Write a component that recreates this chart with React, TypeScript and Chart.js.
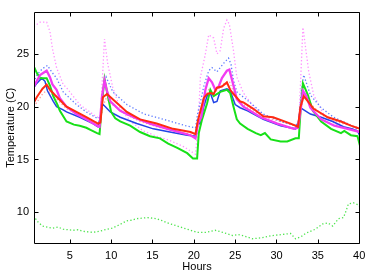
import React, { useEffect, useRef } from "react";
import { Chart, registerables } from "chart.js";

Chart.register(...registerables);

// Hours vs temperature (C) readings, [hour, value]
const redSolid: [number, number][] = [
  [0.65, 20.4], [1.0, 20.9], [1.7, 21.7], [2.2, 22.1], [2.6, 21.6], [3.2, 21.1], [4.6, 20.0], [5.8, 19.5],
  [7.0, 19.0], [8.4, 18.4], [8.7, 18.5], [9.0, 20.9], [9.5, 21.2], [10.5, 20.5], [11.9, 19.5], [13.5, 18.8],
  [15.5, 18.4], [17.5, 17.9], [19.6, 17.6], [20.2, 17.4], [20.5, 18.7], [21.2, 20.8], [21.6, 21.2], [22.0, 21.3],
  [22.4, 21.2], [22.8, 21.8], [23.4, 21.9], [24.0, 22.3], [24.4, 21.6], [24.8, 21.2], [25.6, 20.5], [26.0, 20.4],
  [27.2, 19.8], [28.4, 19.1], [29.6, 19.0], [31.7, 18.4], [32.6, 18.1], [32.9, 20.0], [33.3, 21.0], [34.5, 19.8],
  [36.2, 19.0], [37.8, 18.6], [39.0, 18.2], [40.1, 17.9],
];

const magentaSolid: [number, number][] = [
  [0.65, 21.9], [1.4, 23.0], [2.2, 23.4], [2.6, 22.8], [2.9, 22.1], [3.4, 21.6], [3.8, 20.8], [4.6, 20.0],
  [5.8, 19.3], [7.0, 18.8], [8.3, 18.2], [8.6, 18.1], [8.9, 21.0], [9.2, 22.5], [9.5, 21.5], [9.9, 20.5],
  [11.1, 19.6], [12.7, 19.0], [14.7, 18.4], [16.8, 17.9], [19.6, 17.3], [20.2, 17.0], [20.5, 18.4], [20.9, 19.0],
  [21.4, 21.6], [21.8, 22.7], [22.2, 22.3], [22.6, 21.6], [23.0, 21.9], [23.4, 22.7], [24.0, 23.4], [24.3, 23.5],
  [24.7, 22.3], [25.2, 20.7], [26.0, 20.0], [28.1, 19.0], [30.1, 18.4], [32.1, 17.9], [32.6, 18.0], [32.9, 19.5],
  [33.2, 21.5], [33.6, 21.0], [34.1, 19.9], [35.4, 18.8], [37.0, 18.2], [38.6, 17.9], [40.1, 17.6],
];

const greenSolid: [number, number][] = [
  [0.65, 23.8], [1.0, 23.2], [1.4, 22.7], [2.2, 22.7], [2.6, 22.0], [3.0, 21.0], [3.5, 20.2], [3.8, 19.6],
  [4.6, 18.6], [5.5, 18.3], [6.2, 18.2], [7.0, 18.0], [7.5, 17.8], [8.3, 17.5], [8.6, 17.4], [8.9, 20.5],
  [9.2, 22.6], [9.6, 21.0], [10.0, 19.5], [10.5, 18.9], [11.1, 18.6], [12.3, 18.2], [13.5, 17.6], [14.7, 17.2],
  [15.9, 17.0], [16.9, 16.5], [18.0, 16.1], [19.2, 15.6], [19.9, 15.1], [20.4, 15.1], [20.6, 17.5], [21.0, 18.8],
  [21.6, 20.3], [22.0, 21.6], [22.4, 21.0], [23.2, 21.4], [24.0, 21.6], [24.4, 21.3], [24.8, 20.0], [25.2, 18.8],
  [25.6, 18.4], [26.5, 17.9], [27.5, 17.5], [28.1, 17.3], [28.6, 17.5], [29.3, 16.9], [30.5, 16.7], [31.3, 16.7],
  [32.3, 17.0], [32.7, 17.0], [32.9, 19.5], [33.2, 22.2], [33.8, 21.1], [34.4, 19.6], [35.4, 18.6], [36.6, 17.9],
  [37.8, 17.5], [38.2, 17.7], [39.0, 17.3], [39.8, 17.2], [40.1, 16.3],
];

const blueSolid: [number, number][] = [
  [0.65, 21.8], [1.0, 22.2], [1.6, 22.7], [2.0, 22.4], [2.3, 21.5], [3.0, 20.5], [3.4, 20.0], [4.2, 19.7],
  [4.6, 19.5], [6.2, 19.0], [7.8, 18.4], [8.4, 18.1], [8.7, 19.0], [8.9, 20.3], [9.3, 20.0], [9.9, 19.5],
  [11.1, 19.0], [13.1, 18.4], [15.1, 17.9], [17.1, 17.6], [19.2, 17.3], [20.2, 17.2], [20.5, 18.7], [20.8, 18.3],
  [21.2, 20.0], [21.6, 21.0], [22.0, 21.3], [22.4, 20.4], [22.8, 20.5], [23.2, 21.5], [24.0, 21.7], [24.4, 21.5],
  [25.0, 20.2], [25.6, 19.9], [26.5, 19.6], [28.4, 18.8], [30.5, 18.2], [32.3, 17.9], [32.6, 18.3], [32.9, 19.9],
  [33.3, 19.7], [34.1, 19.3], [35.4, 19.0], [36.8, 18.6], [38.1, 18.1], [39.2, 17.9], [39.8, 17.7], [40.1, 17.2],
];

const pinkDotted: [number, number][] = [
  [0.65, 27.6], [1.4, 28.0], [2.2, 28.0], [2.6, 27.1], [2.9, 25.5], [3.4, 23.7], [4.2, 22.1], [4.6, 21.8],
  [6.2, 20.2], [8.3, 19.0], [8.7, 19.1], [9.0, 23.5], [9.2, 26.4], [9.6, 24.0], [10.2, 21.8], [11.1, 19.8],
  [12.5, 18.5], [13.9, 17.7], [15.5, 17.2], [17.1, 16.8], [18.8, 16.2], [20.2, 15.5], [20.5, 18.0], [20.8, 22.8],
  [21.4, 25.0], [21.8, 26.8], [22.4, 26.5], [22.8, 25.0], [23.2, 25.3], [23.6, 27.4], [24.0, 28.2], [24.3, 27.8],
  [24.8, 25.3], [25.2, 22.8], [26.0, 21.3], [27.2, 20.0], [28.4, 19.2], [30.1, 18.4], [32.3, 17.9], [32.7, 18.5],
  [33.0, 24.0], [33.2, 27.5], [33.5, 25.7], [33.9, 23.3], [34.5, 21.1], [35.7, 19.3], [37.0, 18.4], [38.6, 17.9],
  [40.1, 17.6],
];

const blueDotted: [number, number][] = [
  [0.65, 22.3], [1.0, 23.0], [1.7, 23.6], [2.3, 23.9], [2.8, 23.3], [3.4, 22.7], [4.2, 21.4], [5.8, 20.2],
  [7.0, 19.5], [8.3, 18.9], [8.7, 19.0], [9.0, 21.5], [9.4, 22.8], [10.2, 21.4], [11.9, 20.2], [14.0, 19.3],
  [16.8, 18.7], [19.0, 18.2], [20.2, 18.0], [20.5, 19.5], [20.9, 20.8], [21.2, 21.9], [21.8, 23.4], [22.2, 23.7],
  [22.8, 23.3], [23.6, 24.1], [24.2, 24.6], [24.5, 24.0], [24.8, 22.5], [25.2, 21.4], [26.8, 20.4], [28.4, 19.3],
  [30.5, 18.6], [32.3, 18.2], [32.7, 18.6], [33.0, 21.5], [33.3, 23.0], [34.1, 21.1], [35.4, 19.9], [36.9, 19.0],
  [38.6, 18.4], [40.1, 17.7],
];

const redDotted: [number, number][] = [
  [0.65, 20.0], [1.7, 21.2], [2.3, 21.6], [3.2, 20.9], [4.6, 19.8], [6.2, 19.2], [8.3, 18.5], [8.7, 18.6],
  [9.0, 20.0], [9.4, 20.8], [10.0, 20.3], [11.5, 19.4], [13.5, 18.6], [15.5, 18.1], [17.5, 17.7], [19.6, 17.4],
  [20.2, 17.3], [20.6, 18.8], [21.2, 20.6], [21.8, 21.6], [22.4, 21.2], [23.0, 21.7], [23.8, 22.3], [24.3, 22.4],
  [24.8, 21.4], [25.6, 20.4], [27.2, 19.6], [29.6, 18.8], [31.7, 18.3], [32.6, 18.1], [33.0, 20.0], [33.4, 21.3],
  [34.2, 20.2], [35.5, 19.2], [37.5, 18.5], [39.0, 18.2], [40.1, 18.0],
];

const greenDotted: [number, number][] = [
  [0.65, 9.7], [1.0, 9.2], [1.7, 8.7], [2.3, 8.6], [2.9, 8.5], [3.6, 8.6], [4.2, 8.4], [5.4, 8.3],
  [6.0, 8.35], [6.6, 8.2], [7.8, 8.1], [8.6, 8.2], [9.5, 8.4], [10.1, 8.5], [10.7, 8.7], [11.9, 9.2],
  [12.5, 9.25], [13.1, 9.4], [14.4, 9.5], [15.5, 9.4], [16.2, 9.2], [16.8, 9.0], [18.0, 8.7], [19.2, 8.4],
  [20.4, 8.1], [21.4, 8.1], [22.0, 8.2], [22.6, 8.3], [23.5, 8.1], [24.7, 7.8], [25.3, 7.9], [25.9, 7.8],
  [27.1, 7.5], [28.3, 7.6], [29.5, 7.8], [30.7, 7.9], [31.7, 8.0], [32.3, 7.5], [33.0, 7.7], [33.5, 8.0],
  [34.7, 8.4], [35.6, 8.9], [36.2, 9.0], [36.8, 8.7], [37.5, 9.4], [38.1, 9.5], [38.4, 10.1], [38.7, 10.8],
  [39.3, 10.9], [39.9, 10.7], [40.1, 10.5],
];

const xTicks = [5, 10, 15, 20, 25, 30, 35, 40];
const yTicks = [10, 15, 20, 25];
const xLabel = "Hours";
const yLabel = "Temperature (C)";

const toPts = (arr: [number, number][]) => arr.map(([x, y]) => ({ x, y }));

const framePlugin = {
  id: "frame",
  afterDraw(chart: any) {
    const { ctx, chartArea, scales } = chart;
    const { left, right, top, bottom } = chartArea;
    ctx.save();
    ctx.strokeStyle = "#000";
    ctx.lineWidth = 1;
    const L = Math.round(left) + 0.5;
    const R = Math.round(right) - 0.5;
    const T = Math.round(top) + 0.5;
    const B = Math.round(bottom) - 0.5;
    ctx.beginPath();
    ctx.rect(L, T, R - L, B - T);
    ctx.stroke();
    const len = 4;
    ctx.beginPath();
    xTicks.forEach((v) => {
      const px = Math.round(scales.x.getPixelForValue(v)) + 0.5;
      ctx.moveTo(px, B);
      ctx.lineTo(px, B - len);
      ctx.moveTo(px, T);
      ctx.lineTo(px, T + len);
    });
    yTicks.forEach((v) => {
      const py = Math.round(scales.y.getPixelForValue(v)) + 0.5;
      ctx.moveTo(L, py);
      ctx.lineTo(L + len, py);
      ctx.moveTo(R, py);
      ctx.lineTo(R - len, py);
    });
    ctx.stroke();
    ctx.restore();
  },
};

export default function App() {
  const ref = useRef<HTMLCanvasElement | null>(null);
  useEffect(() => {
    if (!ref.current) return;
    const font = { family: "'Liberation Sans', Arial, sans-serif", size: 11 };
    const solid = (label: string, data: [number, number][], color: string, width: number) => ({
      label,
      data: toPts(data),
      borderColor: color,
      backgroundColor: color,
      borderWidth: width,
      pointRadius: 0,
      tension: 0,
      fill: false,
    });
    const dotted = (label: string, data: [number, number][], color: string) => ({
      ...solid(label, data, color, 1.3),
      borderDash: [1.3, 2.2],
    });
    const chart = new Chart(ref.current, {
      type: "line",
      data: {
        datasets: [
          solid("red", redSolid, "#ff2a12", 2.0),
          solid("magenta", magentaSolid, "#f23cf2", 2.3),
          solid("green", greenSolid, "#18e018", 2.0),
          solid("blue", blueSolid, "#2244e6", 1.5),
          dotted("blue dotted", blueDotted, "#5d7bff"),
          dotted("red dotted", redDotted, "#ff9a9a"),
          dotted("pink dotted", pinkDotted, "#ff90ff"),
          dotted("green dotted", greenDotted, "#4ee44e"),
        ] as any,
      },
      options: {
        animation: false,
        responsive: false,
        devicePixelRatio: 1,
        layout: { padding: { left: 0, right: 14, top: 5, bottom: 0 } },
        plugins: { legend: { display: false }, tooltip: { enabled: false } },
        scales: {
          x: {
            type: "linear",
            min: 0.67,
            max: 40.1,
            grid: { display: false, drawTicks: false },
            border: { display: false },
            afterBuildTicks: (s: any) => {
              s.ticks = xTicks.map((v) => ({ value: v }));
            },
            afterFit: (s: any) => {
              s.height = 34;
            },
            ticks: { color: "#000", font, padding: 5, maxRotation: 0, autoSkip: false },
            title: { display: true, text: xLabel, color: "#000", font, padding: { top: 0, bottom: 4 } },
          },
          y: {
            type: "linear",
            min: 7,
            max: 29,
            grid: { display: false, drawTicks: false },
            border: { display: false },
            afterBuildTicks: (s: any) => {
              s.ticks = yTicks.map((v) => ({ value: v }));
            },
            afterFit: (s: any) => {
              s.width = 34;
            },
            ticks: { color: "#000", font, padding: 5, autoSkip: false },
            title: { display: true, text: yLabel, color: "#000", font, padding: { top: 4, bottom: 0 } },
          },
        },
      },
      plugins: [framePlugin],
    });
    return () => chart.destroy();
  }, []);
  return (
    <div style={{ position: "absolute", left: 0, top: 0, width: 374, height: 278, background: "#fff" }}>
      <canvas ref={ref} width={374} height={278} style={{ display: "block", width: 374, height: 278 }} />
    </div>
  );
}
